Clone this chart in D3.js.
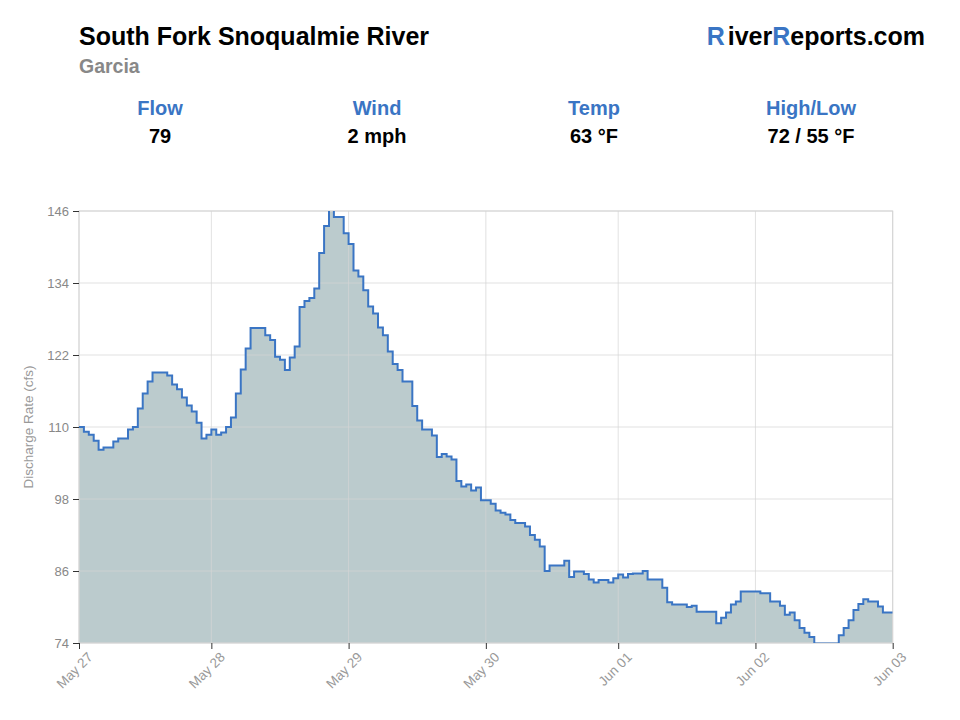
<!DOCTYPE html>
<html>
<head>
<meta charset="utf-8">
<script src="https://cdn.jsdelivr.net/npm/d3@7"></script>
<style>
  body { margin: 0; background: #fff; }
  text { font-family: "Liberation Sans", Arial, Helvetica, sans-serif; }
</style>
</head>
<body>
<svg width="960" height="720"></svg>
<script>
// discharge readings, one per step (cfs)
var flow = [
  110.0, 109.2, 108.7, 107.7, 106.2, 106.6, 106.6, 107.6, 108.1, 108.1,
  109.6, 110.0, 113.1, 115.6, 117.6, 119.1, 119.1, 119.1, 118.6, 117.1,
  116.3, 114.9, 113.6, 112.6, 110.7, 108.1, 108.7,
  109.6, 108.7, 109.1, 110.0, 111.6, 115.6, 119.6, 123.1, 126.5, 126.5,
  126.5, 125.3, 124.5, 121.7, 121.2, 119.5, 121.6, 123.4, 130.0, 131.0,
  131.5, 133.1, 139.0, 143.5, 146.4, 145.0, 145.0, 142.3,
  140.5, 136.1, 135.1, 132.8, 130.1, 128.9, 126.6, 125.3, 122.6, 120.5,
  119.5, 117.6, 117.6, 113.5, 111.1, 109.6, 109.6, 108.6, 105.0, 105.5,
  105.1, 104.6, 101.0, 100.1, 100.4, 99.4, 99.9, 97.8,
  97.8, 97.2, 96.1, 95.7, 95.4, 94.5, 94.0, 94.0, 93.4, 92.0,
  91.2, 90.1, 86.0, 86.9, 86.9, 86.9, 87.7, 85.0, 85.9, 85.9,
  85.5, 84.6, 84.1, 84.5, 84.5, 84.1, 84.8,
  85.4, 84.9, 85.5, 85.6, 85.6, 86.0, 84.6, 84.6, 84.6, 83.2,
  80.8, 80.4, 80.4, 80.4, 80.0, 80.2, 79.2, 79.2, 79.2, 79.2,
  77.3, 78.2, 79.1, 80.4, 80.9, 82.6, 82.6, 82.6,
  82.6, 82.3, 82.3, 80.9, 80.9, 80.2, 78.7, 79.1, 77.8, 76.5,
  75.7, 75.0, 73.9, 73.9, 73.9, 73.9, 73.9, 75.3, 76.5, 77.8,
  79.5, 80.5, 81.3, 80.9, 80.9, 80.1, 79.1, 79.1
];

// x axis: step index where each day label sits
var dayIndex = [0, 27, 55, 83, 110, 138, 166];
var dayLabels = ["May 27", "May 28", "May 29", "May 30", "Jun 01", "Jun 02", "Jun 03"];

var yTicks = [74, 86, 98, 110, 122, 134, 146];

var statLabels = ["Flow", "Wind", "Temp", "High/Low"];
var statValues = ["79", "2 mph", "63 °F", "72 / 55 °F"];

var blue = "#3a75c4";

var margin = {top: 211, left: 79};
var width = 813.7;
var height = 432;

var svg = d3.select("svg");

// ---- header ----
svg.append("text")
    .attr("x", 79).attr("y", 45)
    .attr("font-size", 25).attr("font-weight", "bold").attr("fill", "#000")
    .text("South Fork Snoqualmie River");

svg.append("text")
    .attr("x", 79).attr("y", 73)
    .attr("font-size", 19.5).attr("font-weight", "bold").attr("fill", "#888")
    .text("Garcia");

var brand = svg.append("text")
    .attr("x", 925).attr("y", 45)
    .attr("text-anchor", "end")
    .attr("font-size", 25).attr("font-weight", "bold").attr("fill", "#000");
brand.append("tspan").attr("fill", blue).text("R");
brand.append("tspan").attr("dx", 3).text("iver");
brand.append("tspan").attr("fill", blue).text("R");
brand.append("tspan").text("eports.com");

var stats = svg.selectAll(".stat")
    .data(statLabels)
    .enter().append("g")
    .attr("class", "stat")
    .attr("transform", function(d, i) { return "translate(" + (160 + i * 217) + ",0)"; });

stats.append("text")
    .attr("y", 115)
    .attr("text-anchor", "middle")
    .attr("font-size", 20).attr("font-weight", "bold").attr("fill", blue)
    .text(function(d) { return d; });

stats.append("text")
    .attr("y", 143)
    .attr("text-anchor", "middle")
    .attr("font-size", 20).attr("font-weight", "bold").attr("fill", "#000")
    .text(function(d, i) { return statValues[i]; });

// ---- chart ----
var x = d3.scaleLinear().domain([0, flow.length]).range([0, width]);
var y = d3.scaleLinear().domain([74, 146]).range([height, 0]);

var g = svg.append("g")
    .attr("transform", "translate(" + margin.left + "," + margin.top + ")");

g.append("clipPath").attr("id", "plot-clip")
  .append("rect").attr("width", width).attr("height", height);

// step points: each reading holds until the next one
var pts = flow.map(function(v, i) { return [i, v]; });
pts.push([flow.length, flow[flow.length - 1]]);

var area = d3.area()
    .curve(d3.curveStepAfter)
    .x(function(d) { return x(d[0]); })
    .y0(height)
    .y1(function(d) { return y(d[1]); });

var line = d3.line()
    .curve(d3.curveStepAfter)
    .x(function(d) { return x(d[0]); })
    .y(function(d) { return y(d[1]); });

g.append("path")
    .datum(pts)
    .attr("clip-path", "url(#plot-clip)")
    .attr("fill", "#bbcbcd")
    .attr("d", area);

// grid (drawn over the fill, semi transparent)
g.append("g").selectAll("line")
    .data(yTicks)
    .enter().append("line")
    .attr("x1", 0).attr("x2", width)
    .attr("y1", function(d) { return y(d); })
    .attr("y2", function(d) { return y(d); })
    .attr("stroke", "#d4d4d4").attr("stroke-opacity", 0.7);

g.append("g").selectAll("line")
    .data(dayIndex)
    .enter().append("line")
    .attr("x1", function(d) { return x(d); })
    .attr("x2", function(d) { return x(d); })
    .attr("y1", 0).attr("y2", height)
    .attr("stroke", "#d4d4d4").attr("stroke-opacity", 0.7);

g.append("rect")
    .attr("width", width).attr("height", height)
    .attr("fill", "none").attr("stroke", "#d4d4d4");

g.append("path")
    .datum(pts)
    .attr("clip-path", "url(#plot-clip)")
    .attr("fill", "none")
    .attr("stroke", blue)
    .attr("stroke-width", 2)
    .attr("d", line);

// y axis
var yAxis = g.append("g")
    .call(d3.axisLeft(y).tickValues(yTicks).tickSize(6).tickPadding(4));
yAxis.select(".domain").remove();
yAxis.selectAll(".tick line").attr("stroke", "#333");
yAxis.selectAll(".tick text")
    .attr("fill", "#888").attr("font-size", 13)
    .style("font-family", "'Liberation Sans', Arial, sans-serif");

// x axis
var xAxis = g.append("g")
    .attr("transform", "translate(0," + height + ")")
    .call(d3.axisBottom(x).tickValues(dayIndex).tickSize(6)
      .tickFormat(function(d, i) { return dayLabels[i]; }));
xAxis.select(".domain").remove();
xAxis.selectAll(".tick line").attr("stroke", "#333");
xAxis.selectAll(".tick text")
    .attr("fill", "#999").attr("font-size", 13.5)
    .style("font-family", "'Liberation Sans', Arial, sans-serif")
    .attr("text-anchor", "end")
    .attr("dy", null)
    .attr("y", 0)
    .attr("transform", "translate(14,15) rotate(-45)");

g.append("text")
    .attr("transform", "translate(-46," + (height / 2) + ") rotate(-90)")
    .attr("text-anchor", "middle")
    .attr("font-size", 13.5).attr("fill", "#999")
    .text("Discharge Rate (cfs)");
</script>
</body>
</html>
